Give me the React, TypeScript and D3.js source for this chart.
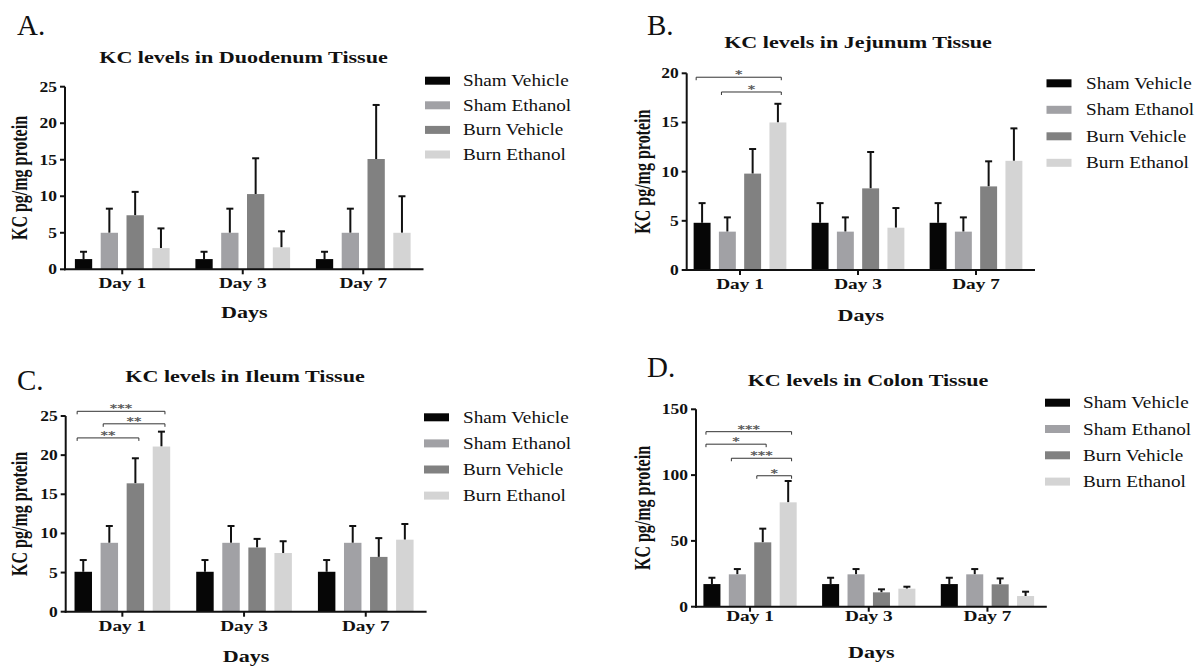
import React from 'react';
import * as d3 from 'd3';

const days = ['Day 1', 'Day 3', 'Day 7'];
const groups = ['Sham Vehicle', 'Sham Ethanol', 'Burn Vehicle', 'Burn Ethanol'];
const groupColors = ['#060606', '#a1a1a5', '#818181', '#d4d4d4'];

// mean and SEM, one row per day, one value per group
const duodenumMean = [[1.4, 5.0, 7.4, 2.9], [1.4, 5.0, 10.3, 3.0], [1.4, 5.0, 15.1, 5.0]];
const duodenumSem = [[1.0, 3.3, 3.2, 2.7], [1.0, 3.3, 4.9, 2.2], [1.0, 3.3, 7.4, 5.0]];
const jejunumMean = [[4.8, 3.9, 9.8, 15.0], [4.8, 3.9, 8.3, 4.3], [4.8, 3.9, 8.5, 11.1]];
const jejunumSem = [[2.0, 1.45, 2.5, 1.9], [2.0, 1.45, 3.7, 2.0], [2.0, 1.45, 2.55, 3.3]];
const ileumMean = [[5.1, 8.8, 16.4, 21.1], [5.1, 8.8, 8.2, 7.5], [5.1, 8.8, 7.0, 9.2]];
const ileumSem = [[1.5, 2.15, 3.2, 1.9], [1.5, 2.15, 1.1, 1.5], [1.5, 2.15, 2.4, 2.0]];
const colonMean = [[17.2, 24.6, 48.9, 79.3], [17.2, 24.6, 10.9, 13.7], [17.2, 24.6, 17.0, 8.1]];
const colonSem = [[4.8, 4.0, 10.4, 16.2], [4.8, 4.0, 2.3, 1.5], [4.8, 4.0, 4.5, 3.3]];

const ticks25 = [0, 5, 10, 15, 20, 25];
const ticks20 = [0, 5, 10, 15, 20];
const ticks150 = [0, 50, 100, 150];

// significance brackets on Day 1: from group a to group b, drawn at value "level"
const jejunumSig = [
  { a: 0, b: 3, level: 19.6, label: '*' },
  { a: 1, b: 3, level: 18.1, label: '*' },
];
const ileumSig = [
  { a: 0, b: 3, level: 25.6, label: '***' },
  { a: 1, b: 3, level: 24.0, label: '**' },
  { a: 0, b: 2, level: 22.2, label: '**' },
];
const colonSig = [
  { a: 0, b: 3, level: 133, label: '***' },
  { a: 0, b: 2, level: 123.5, label: '*' },
  { a: 1, b: 3, level: 112.8, label: '***' },
  { a: 2, b: 3, level: 99.5, label: '*' },
];

const SERIF = "'Liberation Serif', 'Times New Roman', serif";

const panels = [
  {
    letter: 'A.', title: 'KC levels in Duodenum Tissue', mean: duodenumMean, sem: duodenumSem, ticks: ticks25, sig: [],
    L: { lx: 17, ly: 35, tx: 243.5, ty: 62.7, axisX: 65, y0: 269.3, yTop: 86.7, bandLeft: 62, step: 120.5,
      ylabX: 26.5, legX: 425, legY: 80.7, legDy: 24.6, legTx: 463, dayDy: 19, daysDy: 49 },
  },
  {
    letter: 'B.', title: 'KC levels in Jejunum Tissue', mean: jejunumMean, sem: jejunumSem, ticks: ticks20, sig: jejunumSig,
    L: { lx: 647, ly: 35, tx: 858, ty: 48.3, axisX: 686.7, y0: 270, yTop: 73.3, bandLeft: 681, step: 118,
      ylabX: 650, legX: 1046.5, legY: 83.3, legDy: 26.5, legTx: 1086, dayDy: 19, daysDy: 51 },
  },
  {
    letter: 'C.', title: 'KC levels in Ileum Tissue', mean: ileumMean, sem: ileumSem, ticks: ticks25, sig: ileumSig,
    L: { lx: 17, ly: 390, tx: 245, ty: 381.7, axisX: 65.7, y0: 611.7, yTop: 416, bandLeft: 61.5, step: 121.7,
      ylabX: 27, legX: 424, legY: 417.3, legDy: 26.1, legTx: 463, dayDy: 19, daysDy: 50 },
  },
  {
    letter: 'D.', title: 'KC levels in Colon Tissue', mean: colonMean, sem: colonSem, ticks: ticks150, sig: colonSig,
    L: { lx: 647, ly: 377, tx: 868, ty: 386, axisX: 696, y0: 606.7, yTop: 409.3, bandLeft: 690.7, step: 118.7,
      ylabX: 650, legX: 1045, legY: 402.7, legDy: 26.3, legTx: 1083, dayDy: 14, daysDy: 51 },
  },
];

function SText({ x, y, sx = 1.38, size, weight = 'normal', anchor = 'start', fill = '#111', family = SERIF, children }: any) {
  return (
    <text transform={`translate(${x},${y}) scale(${sx},1)`} fontSize={size} fontWeight={weight}
      textAnchor={anchor} fill={fill} fontFamily={family}>{children}</text>
  );
}

function Panel({ p }: any) {
  const L = p.L;
  const yMax = p.ticks[p.ticks.length - 1];
  const y = d3.scaleLinear().domain([0, yMax]).range([L.y0, L.yTop]);
  const x0 = d3.scaleBand().domain(days).range([L.bandLeft, L.bandLeft + 3 * L.step])
    .paddingInner(0.214).paddingOuter(0.107);
  const x1 = d3.scaleBand().domain(groups).range([0, x0.bandwidth()]).paddingInner(0.33);
  const bw = x1.bandwidth();
  const xEnd = L.bandLeft + 3 * L.step;

  return (
    <g>
      <text x={L.lx} y={L.ly} fontSize={29} fontFamily={SERIF} fill="#111">{p.letter}</text>
      <SText x={L.tx} y={L.ty} size={16} weight="bold" anchor="middle">{p.title}</SText>

      {/* bars + error bars */}
      {days.map((d, di) => (
        <g key={d}>
          {groups.map((g, gi) => {
            const bx = x0(d)! + x1(g)!;
            const m = p.mean[di][gi];
            const top = m + p.sem[di][gi];
            const cx = bx + bw / 2;
            return (
              <g key={g}>
                <line x1={cx} x2={cx} y1={y(m)} y2={y(top)} stroke="#111" strokeWidth={2} />
                <line x1={cx - 3.5} x2={cx + 3.5} y1={y(top)} y2={y(top)} stroke="#111" strokeWidth={2} />
                <rect x={bx} y={y(m)} width={bw} height={L.y0 - y(m)} fill={groupColors[gi]} />
              </g>
            );
          })}
        </g>
      ))}

      {/* axes */}
      <line x1={L.axisX} x2={L.axisX} y1={L.y0 + 1} y2={L.yTop} stroke="#111" strokeWidth={2} />
      <line x1={L.axisX - 1} x2={xEnd} y1={L.y0} y2={L.y0} stroke="#111" strokeWidth={2} />
      {p.ticks.map((t: number) => (
        <g key={t}>
          <line x1={L.axisX - 5} x2={L.axisX} y1={y(t)} y2={y(t)} stroke="#111" strokeWidth={2} />
          <SText x={L.axisX - 8} y={y(t) + 5} sx={1.25} size={14} weight="bold" anchor="end">{t}</SText>
        </g>
      ))}
      {days.map((d) => {
        const cx = x0(d)! + x0.bandwidth() / 2;
        return (
          <g key={d}>
            <line x1={cx} x2={cx} y1={L.y0} y2={L.y0 + 5} stroke="#111" strokeWidth={2} />
            <SText x={cx} y={L.y0 + L.dayDy} size={14} weight="bold" anchor="middle">{d}</SText>
          </g>
        );
      })}
      <SText x={(L.axisX + xEnd) / 2} y={L.y0 + L.daysDy} size={16} weight="bold" anchor="middle">Days</SText>
      <text transform={`translate(${L.ylabX},${(L.y0 + L.yTop) / 2}) rotate(-90) scale(1,1.38)`}
        fontSize={16} fontWeight="bold" textAnchor="middle" fontFamily={SERIF} fill="#111">KC pg/mg protein</text>

      {/* significance */}
      {p.sig.map((s: any, i: number) => {
        const xa = x0(days[0])! + x1(groups[s.a])! + bw * 0.15;
        const xb = x0(days[0])! + x1(groups[s.b])! + bw * 0.7;
        const yy = y(s.level);
        return (
          <g key={i}>
            <path d={`M${xa},${yy + 3}V${yy}H${xb}V${yy + 3}`} fill="none" stroke="#333" strokeWidth={1} />
            <SText x={(xa + xb) / 2} y={yy + 1} sx={1.3} size={11} weight="bold" anchor="middle"
              fill="#5a5a5a" family="'DejaVu Sans', sans-serif">{s.label}</SText>
          </g>
        );
      })}

      {/* legend */}
      {groups.map((g, gi) => (
        <g key={g}>
          <rect x={L.legX} y={L.legY + gi * L.legDy - 4} width={25} height={8} fill={groupColors[gi]} />
          <SText x={L.legTx} y={L.legY + gi * L.legDy + 5.5} sx={1.2} size={16}>{g}</SText>
        </g>
      ))}
    </g>
  );
}

export default function App() {
  return (
    <svg width={1196} height={666} style={{ position: 'absolute', left: 0, top: 0, background: '#fff' }}>
      <rect width={1196} height={666} fill="#fff" />
      {panels.map((p) => <Panel key={p.letter} p={p} />)}
    </svg>
  );
}
